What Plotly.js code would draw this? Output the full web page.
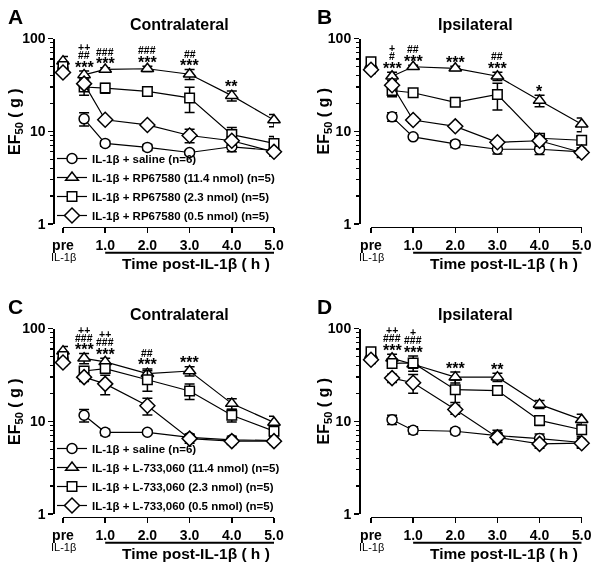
<!DOCTYPE html>
<html><head><meta charset="utf-8">
<script src="https://cdn.plot.ly/plotly-3.0.1.min.js"></script>
<style>
html,body{margin:0;padding:0;background:#fff}
#chart{width:600px;height:567px}
#chart svg{will-change:transform;-webkit-font-smoothing:antialiased}
</style>
</head><body><div id="chart"></div><script>
// ---- data ----
const timeX = [0, 0.5, 1, 2, 3, 4, 5];           // 0 = "pre IL-1β"
const tickVals = [0, 1, 2, 3, 4, 5];
const tickText = ['pre', '1.0', '2.0', '3.0', '4.0', '5.0'];

const namesRP = ['IL-1β + saline (n=6)', 'IL-1β + RP67580 (11.4 nmol) (n=5)', 'IL-1β + RP67580 (2.3 nmol) (n=5)', 'IL-1β + RP67580 (0.5 nmol) (n=5)'];
const namesL7 = ['IL-1β + saline (n=6)', 'IL-1β + L-733,060 (11.4 nmol) (n=5)', 'IL-1β + L-733,060 (2.3 nmol) (n=5)', 'IL-1β + L-733,060 (0.5 nmol) (n=5)'];

// Panel A (RP67580, contralateral)
const A_saline = [47, 13.6, 7.4, 6.7, 5.9, 6.8, 6.2];   const A_saline_err = [5, 2.2, 0.5, 0.5, 0.3, 0.8, 0.5];
const A_hi     = [57, 40.5, 46.4, 47.2, 41.2, 24.2, 13.2]; const A_hi_err   = [7, 4, 2, 3, 5, 3, 2];
const A_mid    = [50, 30, 29.2, 26.9, 22.9, 9.2, 7.4];   const A_mid_err    = [5, 5.5, 3.5, 3, 7, 1.8, 1.4];
const A_lo     = [43, 32.6, 13.3, 11.7, 9.0, 7.9, 6.0];  const A_lo_err     = [3, 2, 0.7, 0.5, 1.5, 0.8, 0.6];
const A_stars = ['', '***', '***', '***', '***', '**', ''];
const A_hash  = ['', '##', '###', '###', '##', '', ''];
const A_plus  = ['', '++', '', '', '', '', ''];

// Panel B (RP67580, ipsilateral)
const B_saline = [46, 14.3, 8.7, 7.3, 6.4, 6.4, 6.0];   const B_saline_err = [4, 1.5, 0.4, 0.6, 0.7, 0.8, 0.6];
const B_hi     = [52, 39.2, 49.6, 47.7, 39.2, 21.4, 11.9]; const B_hi_err   = [6, 4, 2, 2.5, 4, 3, 2];
const B_mid    = [56, 27.5, 26, 20.5, 24.9, 8.4, 8.0];   const B_mid_err    = [5, 4, 1.5, 1.2, 8, 1, 0.8];
const B_lo     = [46, 31.3, 13.2, 11.3, 7.6, 7.9, 5.9];  const B_lo_err     = [3, 2, 1, 0.3, 0.5, 1, 0.7];
const B_stars = ['', '***', '***', '***', '***', '*', ''];
const B_hash  = ['', '#', '##', '', '##', '', ''];
const B_plus  = ['', '+', '', '', '', '', ''];

// Panel C (L-733,060, contralateral)
const C_saline = [47, 11.6, 7.6, 7.6, 6.7, 6.3, 6.2];   const C_saline_err = [4, 1.8, 0.6, 0.4, 0.6, 0.6, 0.5];
const C_hi     = [57, 47.7, 43.7, 32.6, 34.8, 15.5, 9.7]; const C_hi_err   = [7, 6, 4, 4, 4, 2, 1.6];
const C_mid    = [50, 34.8, 37, 28, 21.2, 11.6, 7.8];    const C_mid_err    = [5, 3, 4, 7, 4, 1.8, 1];
const C_lo     = [43, 29.9, 25.3, 14.7, 6.5, 6.1, 6.1];  const C_lo_err     = [3, 3, 6, 3, 0.7, 0.5, 0.5];
const C_stars = ['', '***', '***', '***', '***', '', ''];
const C_hash  = ['', '###', '###', '##', '', '', ''];
const C_plus  = ['', '++', '++', '', '', '', ''];

// Panel D (L-733,060, ipsilateral)
const D_saline = [46, 10.4, 8.0, 7.8, 7.0, 6.5, 5.9];   const D_saline_err = [4, 1.2, 0.7, 0.6, 1, 0.8, 0.7];
const D_hi     = [52, 47.7, 41.2, 29.9, 29.9, 15.2, 10.4]; const D_hi_err   = [6, 5, 4, 4, 3, 1.5, 1.5];
const D_mid    = [56, 42, 42.5, 21.9, 21.4, 10.2, 8.1];  const D_mid_err    = [5, 3, 8, 6, 2, 1.2, 1.2];
const D_lo     = [46, 29.2, 26, 13.4, 6.7, 5.7, 5.8];    const D_lo_err     = [3, 3, 6, 1.5, 0.8, 0.6, 0.7];
const D_stars = ['', '***', '***', '***', '**', '', ''];
const D_hash  = ['', '###', '###', '', '', '', ''];
const D_plus  = ['', '++', '+', '', '', '', ''];

// ---- styling / layout ----
const FONT = 'Liberation Sans, Arial, Helvetica, sans-serif';
const W = 600, H = 567;
const fx = p => p / W, fy = p => 1 - p / H;
const symbols = ['circle', 'triangle-up', 'square', 'diamond'];
const sizes = [10, 11, 9.5, 11.5];

const panels = [
  {letter:'A', title:'Contralateral', ax:'', names:namesRP, legend:'legend',
   series:[[A_saline,A_saline_err],[A_hi,A_hi_err],[A_mid,A_mid_err],[A_lo,A_lo_err]],
   stars:A_stars, hash:A_hash, plus:A_plus,
   xd:[63,274], yAxX:53.3, yTop:38.5, yBot:224, xAxY:226.7, letterX:15.5, titleX:179, ytX:15.5, dy:0},
  {letter:'B', title:'Ipsilateral', ax:'2', names:namesRP, legend:null,
   series:[[B_saline,B_saline_err],[B_hi,B_hi_err],[B_mid,B_mid_err],[B_lo,B_lo_err]],
   stars:B_stars, hash:B_hash, plus:B_plus,
   xd:[371,581.7], yAxX:359, yTop:38.5, yBot:224, xAxY:226.7, letterX:324.5, titleX:475, ytX:324, dy:0},
  {letter:'C', title:'Contralateral', ax:'3', names:namesL7, legend:'legend2',
   series:[[C_saline,C_saline_err],[C_hi,C_hi_err],[C_mid,C_mid_err],[C_lo,C_lo_err]],
   stars:C_stars, hash:C_hash, plus:C_plus,
   xd:[63,274], yAxX:53.3, yTop:38.5, yBot:224, xAxY:226.7, letterX:15.5, titleX:179, ytX:15.5, dy:290},
  {letter:'D', title:'Ipsilateral', ax:'4', names:namesL7, legend:null,
   series:[[D_saline,D_saline_err],[D_hi,D_hi_err],[D_mid,D_mid_err],[D_lo,D_lo_err]],
   stars:D_stars, hash:D_hash, plus:D_plus,
   xd:[371,581.7], yAxX:359, yTop:38.5, yBot:224, xAxY:226.7, letterX:324.5, titleX:475, ytX:324, dy:290}
];

const traces = [];
const layout = {
  width: W, height: H,
  margin: {l:0, r:0, t:0, b:0},
  paper_bgcolor: '#fff', plot_bgcolor: 'rgba(0,0,0,0)',
  font: {family: FONT, color: '#000'},
  showlegend: true,
  annotations: [], shapes: []
};

const legendBase = {
  xanchor: 'left', yanchor: 'bottom', bgcolor: 'rgba(0,0,0,0)',
  font: {family: FONT, size: 11.5, weight: 'bold', color: '#000'},
  tracegroupgap: 0, itemwidth: 30
};
layout.legend  = Object.assign({}, legendBase, {x: fx(52), y: fy(230)});
layout.legend2 = Object.assign({}, legendBase, {x: fx(52), y: fy(230 + 290)});

panels.forEach(p => {
  const xa = 'x' + p.ax, ya = 'y' + p.ax;
  const xKey = 'xaxis' + p.ax, yKey = 'yaxis' + p.ax;
  layout[xKey] = {
    domain: [fx(p.xd[0]), fx(p.xd[1])], range: [0, 5], anchor: 'free', position: fy(p.xAxY + p.dy),
    showline: true, linewidth: 1.6, linecolor: '#000', ticks: 'outside', ticklen: 5, tickwidth: 1.5, tickcolor: '#000',
    tickmode: 'array', tickvals: tickVals, ticktext: tickText, ticklabelstandoff: 0,
    tickfont: {family: FONT, size: 14, weight: 'bold', color: '#000'},
    showgrid: false, zeroline: false, fixedrange: true
  };
  layout[yKey] = {
    domain: [fy(p.yBot + p.dy), fy(p.yTop + p.dy)], type: 'log', range: [0, 2], anchor: 'free', position: fx(p.yAxX),
    showline: true, linewidth: 1.6, linecolor: '#000', ticks: 'outside', ticklen: 5, tickwidth: 1.5, tickcolor: '#000',
    tickmode: 'array', tickvals: [1, 10, 100], ticktext: ['1', '10', '100'],
    tickfont: {family: FONT, size: 14, weight: 'bold', color: '#000'},
    minor: {ticks: 'outside', tickmode: 'array', tickvals: [2,3,4,5,6,7,8,9,20,30,40,50,60,70,80,90], ticklen: 3, tickwidth: 1.2, tickcolor: '#000', showgrid: false},
    showgrid: false, zeroline: false, fixedrange: true
  };

  p.series.forEach((s, k) => {
    const vals = s[0], errs = s[1];
    const mk = {symbol: symbols[k], size: sizes[k], color: '#fff', line: {color: '#000', width: 1.5}};
    const eb = {type: 'data', array: null, visible: true, color: '#000', thickness: 1.5, width: 5};
    traces.push({
      type: 'scatter', mode: 'lines+markers', xaxis: xa, yaxis: ya,
      x: timeX.slice(1), y: vals.slice(1),
      error_y: Object.assign({}, eb, {array: errs.slice(1)}),
      line: {color: '#000', width: 1.2}, marker: mk, cliponaxis: false,
      name: p.names[k], showlegend: !!p.legend, legend: p.legend || 'legend', hoverinfo: 'skip'
    });
    traces.push({
      type: 'scatter', mode: 'markers', xaxis: xa, yaxis: ya,
      x: timeX.slice(0, 1), y: vals.slice(0, 1),
      error_y: Object.assign({}, eb, {array: errs.slice(0, 1)}),
      marker: mk, cliponaxis: false, showlegend: false, hoverinfo: 'skip'
    });
  });

  // significance marks above the highest error bar at each time point
  timeX.forEach((t, i) => {
    let top = 0;
    p.series.forEach(s => { top = Math.max(top, s[0][i] + s[1][i]); });
    const ly = Math.log10(top);
    const base = {xref: xa, yref: ya, x: t, y: ly, showarrow: false, xanchor: 'center', yanchor: 'middle'};
    if (p.stars[i]) layout.annotations.push(Object.assign({}, base, {text: p.stars[i], yshift: 4, font: {family: FONT, size: 16, weight: 'bold', color: '#000'}}));
    if (p.hash[i])  layout.annotations.push(Object.assign({}, base, {text: p.hash[i], yshift: 16, font: {family: FONT, size: 10.5, weight: 'bold', color: '#000'}}));
    if (p.plus[i])  layout.annotations.push(Object.assign({}, base, {text: p.plus[i], yshift: 24, font: {family: FONT, size: 10.5, weight: 'bold', color: '#000'}}));
  });

  const A = layout.annotations;
  A.push({xref:'paper', yref:'paper', x: fx(p.letterX), y: fy(16.5 + p.dy), text: p.letter, showarrow:false,
          xanchor:'center', yanchor:'middle', font:{family:FONT, size:21, weight:'bold', color:'#000'}});
  A.push({xref:'paper', yref:'paper', x: fx(p.titleX), y: fy(24 + p.dy), text: p.title, showarrow:false,
          xanchor:'center', yanchor:'middle', font:{family:FONT, size:16, weight:'bold', color:'#000'}});
  A.push({xref:'paper', yref:'paper', x: fx(p.ytX), y: fy(121.5 + p.dy), text: 'EF<sub>50</sub> ( g )', textangle:-90, showarrow:false,
          xanchor:'center', yanchor:'middle', font:{family:FONT, size:16, weight:'bold', color:'#000'}});
  A.push({xref:xa, yref:'paper', x: 3.15, y: fy(263.3 + p.dy), text: 'Time post-IL-1β ( h )', showarrow:false,
          xanchor:'center', yanchor:'middle', font:{family:FONT, size:15.5, weight:'bold', color:'#000'}});
  A.push({xref:xa, yref:'paper', x: 0, y: fy(257 + p.dy), text: 'IL-1β', showarrow:false,
          xanchor:'center', yanchor:'middle', font:{family:FONT, size:11, color:'#000'}});
  layout.shapes.push({type:'line', xref:xa, yref:'paper', x0:1, x1:5, y0: fy(252.7 + p.dy), y1: fy(252.7 + p.dy),
          line:{color:'#000', width:2}});
});

Plotly.newPlot('chart', traces, layout, {staticPlot: true, displayModeBar: false});
</script></body></html>
